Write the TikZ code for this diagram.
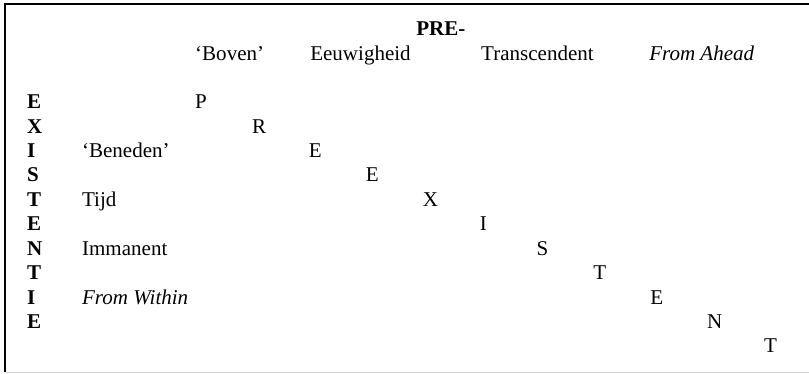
\documentclass[tikz,border=0pt]{standalone}
\usepackage{fontspec}
\setmainfont{Liberation Serif}

\tikzset{
  txt/.style={anchor=base west, inner sep=0pt, font=\fontsize{21.1}{25}\selectfont},
  hd/.style={txt, font=\fontsize{21.1}{25}\selectfont\bfseries},
  it/.style={txt, font=\fontsize{21.1}{25}\selectfont\itshape}
}

\begin{document}
\begin{tikzpicture}
        \useasboundingbox (0,0) rectangle (28.54,13.19);
        \draw[line width=2bp] (0.18,0.05) -- (0.18,13.05) -- (28.54,13.05);
        \draw[gray!35] (0.18,0.05) -- (28.54,0.05);

        % top lines
        \node[hd] (pre) at (14.68,11.93) {PRE-};
        \node[txt] (boven) at (6.88,11.07) {‘Boven’};
        \node[txt] (eeuw) at (10.94,11.07) {Eeuwigheid};
        \node[txt] (trans) at (16.97,11.07) {Transcendent};
        \node[it] (ahead) at (22.90,11.07) {From Ahead};

        % EXISTENTIE down the left
        \node[hd] (exE) at (0.95,9.35) {E};
        \node[hd] (exX) at (0.95,8.49) {X};
        \node[hd] (exI) at (0.95,7.63) {I};
        \node[hd] (exS) at (0.95,6.77) {S};
        \node[hd] (exT) at (0.95,5.91) {T};
        \node[hd] (exEb) at (0.95,5.05) {E};
        \node[hd] (exN) at (0.95,4.18) {N};
        \node[hd] (exTb) at (0.95,3.32) {T};
        \node[hd] (exIb) at (0.95,2.46) {I};
        \node[hd] (exEc) at (0.95,1.60) {E};

        \node[txt] (beneden) at (2.89,7.63) {‘Beneden’};
        \node[txt] (tijd) at (2.89,5.91) {Tijd};
        \node[txt] (imman) at (2.89,4.18) {Immanent};
        \node[it] (within) at (2.89,2.46) {From Within};

        % PRE-EXISTENT on the diagonal
        \node[txt] (dP) at (6.88,9.35) {P};
        \node[txt] (dR) at (8.89,8.49) {R};
        \node[txt] (dE) at (10.89,7.63) {E};
        \node[txt] (dEb) at (12.90,6.77) {E};
        \node[txt] (dX) at (14.91,5.91) {X};
        \node[txt] (dI) at (16.92,5.05) {I};
        \node[txt] (dS) at (18.92,4.18) {S};
        \node[txt] (dT) at (20.93,3.32) {T};
        \node[txt] (dEc) at (22.94,2.46) {E};
        \node[txt] (dN) at (24.94,1.60) {N};
        \node[txt] (dTb) at (26.95,0.74) {T};
\end{tikzpicture}
\end{document}
